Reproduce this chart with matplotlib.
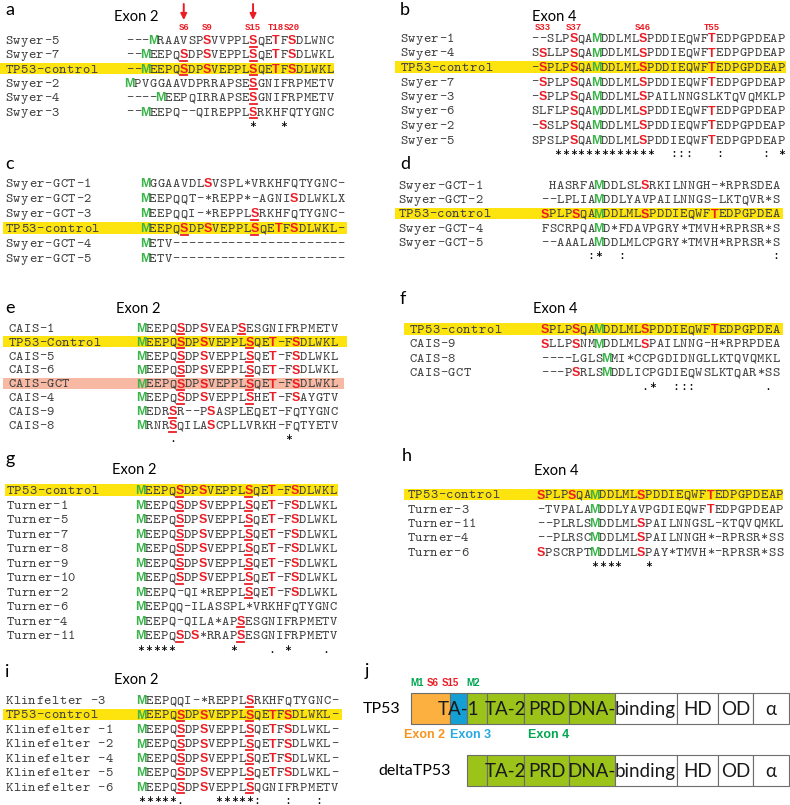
import matplotlib
matplotlib.use("Agg")
import matplotlib.pyplot as plt

# colours used in the figure
RED = '#ed1c24'
GREEN = '#39b54a'
YELLOW = '#fde40f'
SALMON = '#f8b9a4'
INK = '#404040'
SANS = 'Lato'
MONO = 'cmtt10'
MONO_SIZE = 10

# markup in the sequences: ^ green M, ! red residue, _ red underlined residue

# ---- a: Swyer, exon 2
a_names = ['Swyer-5', 'Swyer-7', 'TP53-control', 'Swyer-2', 'Swyer-4', 'Swyer-3']
a_seqs = ['---^MRAAVSP!SVVPPL_SQE!TF!SDLWNC',
          '--^MEEPQ_SDP!SVEPPL_SQE!TF!SDLWKL',
          '--^MEEPQ_SDP!SVEPPL_SQE!TF!SDLWKL',
          '^MPVGGAAVDPRRAPSE_SGNIFRPMETV',
          '----^MEEPQIRRAPSE_SGNIFRPMETV',
          '--^MEEPQ--QIREPPL_SRKHFQTYGNC']
a_cons = '                *   *'
a_sites = ['S6', 'S9', 'S15', 'T18', 'S20']
a_site_cols = [7, 10, 16, 19, 21]
a_arrow_cols = [7, 16]

# ---- b: Swyer, exon 4
b_names = ['Swyer-1', 'Swyer-4', 'TP53-control', 'Swyer-7', 'Swyer-3',
           'Swyer-6', 'Swyer-2', 'Swyer-5']
b_seqs = ['--SLP!SQA^MDDLML!SPDDIEQWF!TEDPGPDEAP',
          'S!SLLP!SQA^MDDLML!SPDDIEQWF!TEDPGPDEAP',
          '-!SPLP!SQA^MDDLML!SPDDIEQWF!TEDPGPDEAP',
          '-!SPLP!SQA^MDDLML!SPDDIEQWF!TEDPGPDEAP',
          '-!SPLP!SQA^MDDLML!SPAILNNGSLKTQVQMKLP',
          'SLFLP!SQA^MDDLML!SPDDIEQWF!TEDPGPDEAP',
          '-!SSLP!SQA^MDDLML!SPDDIEQWF!TEDPGPDEAP',
          'SPSLP!SQA^MDDLML!SPDDIEQWF!TEDPGPDEAP']
b_cons = '   *************  :::   :     : *'
b_sites = ['S33', 'S37', 'S46', 'T55']
b_site_cols = [1, 5, 14, 23]

# ---- c: Swyer GCT, exon 2
c_names = ['Swyer-GCT-1', 'Swyer-GCT-2', 'Swyer-GCT-3', 'TP53-control',
           'Swyer-GCT-4', 'Swyer-GCT-5']
c_seqs = ['^MGGAAVDL!SVSPL*VRKHFQTYGNC-',
          '^MEEPQQT-*REPP*-AGNI!SDLWKLX',
          '^MEEPQQI-*REPPL_SRKHFQTYGNC-',
          '^MEEPQ_SDP!SVEPPL_SQE!TF!SDLWKL-',
          '^METV----------------------',
          '^METV----------------------']

# ---- d: Swyer GCT, exon 4
d_names = ['Swyer-GCT-1', 'Swyer-GCT-2', 'TP53-control', 'Swyer-GCT-4', 'Swyer-GCT-5']
d_seqs = [' HASRFA^MDDLSL!SRKILNNGH-*RPRSDEA',
          '--LPLIA^MDDLYAVPAILNNGS-LKTQVR*S',
          '!SPLP!SQA^MDDLML!SPDDIEQWF!TEDPGPDEA',
          'FSCRPQA^MD*FDAVPGRY*TMVH*RPRSR*S',
          '--AAALA^MDDLMLCPGRY*TMVH*RPRSR*S']
d_cons = '      :*  :                   :'

# ---- e: CAIS, exon 2
e_names = ['CAIS-1', 'TP53-Control', 'CAIS-5', 'CAIS-6', 'CAIS-GCT',
           'CAIS-4', 'CAIS-9', 'CAIS-8']
e_seqs = ['^MEEPQ_SDP!SVEAP_SESGNIFRPMETV',
          '^MEEPQ_SDP!SVEPPL_SQE!T-F!SDLWKL',
          '^MEEPQ_SDP!SVEPPL_SQE!T-F!SDLWKL',
          '^MEEPQ_SDP!SVEPPL_SQE!T-F!SDLWKL',
          '^MEEPQ_SDP!SVEPPL_SQE!T-F!SDLWKL',
          '^MEEPQ_SDP!SVEPPL_SHE!T-F!SAYGTV',
          '^MEDR_SR--P!SASPLEQET-FQTYGNC',
          '^MRNR_SQILA!SCPLLVRKH-FQTYETV']
e_cons = '    .              *'

# ---- f: CAIS, exon 4
f_names = ['TP53-control', 'CAIS-9', 'CAIS-8', 'CAIS-GCT']
f_seqs = ['!SPLP!SQA^MDDLML!SPDDIEQWF!TEDPGPDEA',
          '!SLLP!SNM^MDDLML!SPAILNNG-H*RPRPDEA',
          '----LGLS^MMI*CCPGDIDNGLLKTQVQMKL',
          '---P!SRLS^MDDLICPGDIEQWSLKTQAR*SS']
f_cons = '             .*  :::         .'

# ---- g: Turner, exon 2
g_names = ['TP53-control', 'Turner-1', 'Turner-5', 'Turner-7', 'Turner-8',
           'Turner-9', 'Turner-10', 'Turner-2', 'Turner-6', 'Turner-4', 'Turner-11']
g_seqs = ['^MEEPQ_SDP!SVEPPL_SQE!T-F!SDLWKL'] * 7 + [
          '^MEEPQ-QI*REPPL_SQE!T-F!SDLWKL',
          '^MEEPQQ-ILASSPL*VRKHFQTYGNC',
          '^MEEPQ-QILA*AP_SESGNIFRPMETV',
          '^MEEPQ_SD!S*RRAP_SESGNIFRPMETV']
g_cons = '*****       *    . *    .'

# ---- h: Turner, exon 4
h_names = ['TP53-control', 'Turner-3', 'Turner-11', 'Turner-4', 'Turner-6']
h_seqs = ['!SPLP!SQA^MDDLML!SPDDIEQWF!TEDPGPDEAP',
          '-TVPALA^MDDLYAVPGDIEQWF!TEDPGPDEAP',
          '--PLRLS^MDDLML!SPAILNNGSL-KTQVQMKL',
          '--PLRSC^MDDLML!SPAILNNGH*-RPRSR*SS',
          '!SPSCRPT^MDDLML!SPAY*TMVH*-RPRSR*SS']
h_cons = '       ****   *'

# ---- i: Klinefelter, exon 2
i_names = ['Klinfelter -3', 'TP53-control', 'Klinefelter -1', 'Klinefelter -2',
           'Klinefelter -4', 'Klinefelter -5', 'Klinefelter -6']
i_seqs = ['^MEEPQQI-*REPPL_SRKHFQTYGNC-'] + ['^MEEPQ_SDP!SVEPPL_SQE!TF!SDLWKL-'] * 5 + [
          '^MEEPQ_SDP!SVEPPL_SQGNIFRPMETV']
i_cons = '*****.    *****:   :   :'

# ---- j: domain map (segment widths in drawing units)
dom_labels = ['', 'TA-1', '', 'TA-2', 'PRD', 'DNA-', 'binding', 'HD', 'OD', '\u03b1']
dom_widths = [39, 17.3, 19.4, 37.6, 45, 45.7, 61.7, 41.6, 35, 35.7]
dom_colors = ['#fbb040', '#14a0d4', '#9bc31a', '#9bc31a', '#9bc31a', '#9bc31a',
              'white', 'white', 'white', 'white']
site_labels = ['M1', 'S6', 'S15', 'M2']
site_colors = ['#00a651', RED, RED, '#00a651']
exon_labels = ['Exon 2', 'Exon 3', 'Exon 4']
exon_colors = ['#f7941d', '#27aae1', '#00a651']


def parse(seq):
    out = []
    mark = None
    for ch in seq:
        if ch in '^!_':
            mark = ch
            continue
        out.append((ch, mark))
        mark = None
    return out


def mono(ax, x, base, text, cw, color=INK, size=MONO_SIZE):
    for k, ch in enumerate(text):
        if ch != ' ':
            ax.text(x + k * cw + cw / 2, base, ch, ha='center', va='baseline',
                    family=MONO, size=size, color=color)


def block(ax, names, seqs, cons, name_x, seq_x, y0, dy, cw=7.7, shade=None):
    for r, (name, seq) in enumerate(zip(names, seqs)):
        y = y0 + r * dy
        if shade and r in shade:
            col, x0, x1 = shade[r]
            ax.barh(y, x1 - x0, left=x0, height=11.5, color=col, zorder=0)
        mono(ax, name_x, y + 4, name, cw)
        for i, (ch, mark) in enumerate(parse(seq)):
            cx = seq_x + i * cw + cw / 2
            if mark is None:
                ax.text(cx, y + 4, ch, ha='center', va='baseline',
                        family=MONO, size=MONO_SIZE, color=INK)
            else:
                ax.text(cx, y + 4.2, ch, ha='center', va='baseline', family='Liberation Sans',
                        weight='bold', size=9, color=GREEN if mark == '^' else RED)
                if mark == '_':
                    ax.plot([cx - cw * 0.45, cx + cw * 0.45], [y + 6.6] * 2, color=RED, lw=1.3)
    if cons:
        mono(ax, seq_x, y0 + len(names) * dy + 3, cons, cw, color='black', size=9.5)


def letter(ax, x, y, s):
    ax.text(x, y, s, family=SANS, size=13, va='baseline', ha='left')


def exon(ax, x, y, s):
    ax.text(x, y, s, family=SANS, size=10.5, va='baseline', ha='left')


def sites(ax, seq_x, labels, cols, cw=7.7):
    for s, c in zip(labels, cols):
        ax.text(seq_x + c * cw + cw / 2, 30.5, s, ha='center', va='baseline',
                family='Liberation Mono', weight='bold', size=6.5, color=RED)


fig = plt.figure(figsize=(7.9, 8.05), dpi=100)
ax = fig.add_axes([0, 0, 1, 1])
ax.set_xlim(0, 790)
ax.set_ylim(805, 0)
ax.axis('off')

# a
letter(ax, 5, 15, 'a')
exon(ax, 114, 21, 'Exon 2')
block(ax, a_names, a_seqs, a_cons, 5, 126, 40, 14.3, shade={2: (YELLOW, 0, 334)})
sites(ax, 126, a_sites, a_site_cols)
for c in a_arrow_cols:
    x = 126 + c * 7.7 + 3.85
    ax.annotate('', xy=(x, 20), xytext=(x, 4),
                arrowprops=dict(arrowstyle='-|>', color=RED, lw=1.4, mutation_scale=9,
                                shrinkA=0, shrinkB=0))

# b
letter(ax, 400, 15, 'b')
exon(ax, 532, 21, 'Exon 4')
block(ax, b_names, b_seqs, b_cons, 400, 531, 38, 14.5, shade={2: (YELLOW, 395, 786)})
sites(ax, 531, b_sites, b_site_cols)

# c, d
letter(ax, 5, 169, 'c')
block(ax, c_names, c_seqs, None, 5, 141, 183, 15, cw=7.85, shade={3: (YELLOW, 3, 347)})
letter(ax, 400, 169, 'd')
block(ax, d_names, d_seqs, d_cons, 398, 541, 185, 14.2, shade={2: (YELLOW, 395, 783)})

# e, f
letter(ax, 5, 313, 'e')
exon(ax, 116, 313, 'Exon 2')
block(ax, e_names, e_seqs, e_cons, 8, 138, 327.7, 13.9,
      shade={1: (YELLOW, 3, 347), 4: (SALMON, 3, 344)})
letter(ax, 400, 304, 'f')
exon(ax, 533, 313, 'Exon 4')
block(ax, f_names, f_seqs, f_cons, 409, 541, 329, 14.4, shade={0: (YELLOW, 404, 783)})

# g, h
letter(ax, 5, 464, 'g')
exon(ax, 112, 474, 'Exon 2')
block(ax, g_names, g_seqs, g_cons, 6, 137, 490, 14.5, shade={0: (YELLOW, 5, 338)})
letter(ax, 402, 461, 'h')
exon(ax, 534, 475, 'Exon 4')
block(ax, h_names, h_seqs, h_cons, 407, 537, 494.3, 14.3, shade={0: (YELLOW, 404, 783)})

# i
letter(ax, 5, 677, 'i')
exon(ax, 114, 684, 'Exon 2')
block(ax, i_names, i_seqs, i_cons, 5, 138, 700, 14.45, shade={1: (YELLOW, 3, 342)})

# j
letter(ax, 365, 676, 'j')
bar_x0 = 411
lefts = [bar_x0 + sum(dom_widths[:k]) for k in range(len(dom_widths))]
for yc, start in [(708.8, 0), (770.5, 2)]:
    ax.barh([yc] * (len(dom_widths) - start), dom_widths[start:], left=lefts[start:],
            height=31, color=dom_colors[start:], edgecolor='#6d6d6d', lw=0.8, zorder=1)
    for lab, l, w in zip(dom_labels[start:], lefts[start:], dom_widths[start:]):
        if not lab:
            continue
        # "DNA-" and "binding" meet at the segment boundary
        if lab == 'DNA-':
            x, ha = l + w + 0.5, 'right'
        elif lab == 'binding':
            x, ha = l - 0.5, 'left'
        else:
            x, ha = l + w / 2, 'center'
        ax.text(x, yc + 1, lab, ha=ha, va='center', family=SANS,
                size=13.5, color='#1a1a1a', zorder=3)
ax.text(363, 709, 'TP53', ha='left', va='center', family=SANS, size=11.5)
ax.text(378, 771, 'deltaTP53', ha='left', va='center', family=SANS, size=11.5)
for s, x, c in zip(site_labels, [417, 433, 450, 473], site_colors):
    ax.text(x, 686, s, ha='center', va='baseline', family='Liberation Sans',
            weight='bold', size=7, color=c)
for s, x, c in zip(exon_labels, [425, 471, 549], exon_colors):
    ax.text(x, 738, s, ha='center', va='baseline', family='Liberation Sans',
            weight='bold', size=9, color=c)

fig.savefig('out.png', dpi=100)
